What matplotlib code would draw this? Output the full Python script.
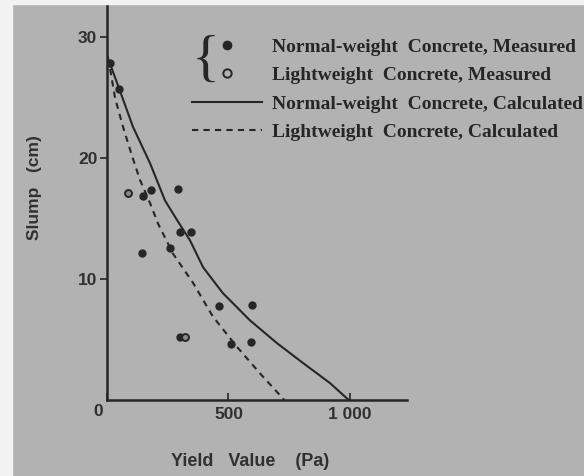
import matplotlib
matplotlib.use("Agg")
import matplotlib.pyplot as plt
from matplotlib.lines import Line2D
from matplotlib.patches import Rectangle

# measured points (yield value Pa, slump cm)
normal_x = [12, 49, 148, 181, 292, 300, 346, 144, 259, 461, 597, 300, 510, 593]
normal_y = [27.9, 25.7, 16.9, 17.4, 17.5, 13.9, 13.9, 12.2, 12.6, 7.8, 7.9, 5.2, 4.6, 4.8]
light_x = [86, 322]
light_y = [17.1, 5.2]

# calculated curves
normal_calc_x = [0, 12, 53, 107, 177, 239, 288, 342, 395, 477, 588, 700, 807, 918, 995]
normal_calc_y = [28.5, 27.85, 25.6, 22.6, 19.6, 16.5, 14.9, 13.2, 11.0, 8.84, 6.6, 4.7, 3.06, 1.4, 0.0]
light_calc_x = [0, 12, 33, 66, 103, 136, 177, 210, 272, 354, 436, 535, 630, 730]
light_calc_y = [28.3, 27.5, 25.0, 22.6, 20.2, 18.2, 16.3, 14.6, 12.1, 9.7, 6.9, 4.4, 2.2, 0.0]

x_ticks = [0, 500, 1000]
x_ticklabels = ["", "500", "1 000"]
y_ticks = [10, 20, 30]

labels = ["Normal-weight  Concrete, Measured",
          "Lightweight  Concrete, Measured",
          "Normal-weight  Concrete, Calculated",
          "Lightweight  Concrete, Calculated"]

bg = "#b2b2b2"
ink = "#262626"
txt = "#303030"
sans = ["Liberation Sans", "DejaVu Sans"]

fig = plt.figure(figsize=(5.84, 4.76), dpi=100, facecolor=bg)
fig.patches.append(Rectangle((0, 0), 12 / 584, 1, transform=fig.transFigure,
                             color="#f2f2f2", zorder=0))
fig.patches.append(Rectangle((0, 1 - 4 / 476), 1, 4 / 476, transform=fig.transFigure,
                             color="#f2f2f2", zorder=0))

ax = fig.add_axes([107 / 584, 76 / 476, 300 / 584, 400 / 476])
ax.set_facecolor("none")
ax.set_xlim(0, 1235)
ax.set_ylim(0, 33.1)
for s in ["top", "right"]:
    ax.spines[s].set_visible(False)
for s in ["left", "bottom"]:
    ax.spines[s].set_color(ink)
    ax.spines[s].set_linewidth(1.8)

ax.plot(normal_calc_x, normal_calc_y, color=ink, lw=1.5)
ax.plot(light_calc_x, light_calc_y, color=ink, lw=1.5, ls=(0, (3, 2.5)))
ax.plot(normal_x, normal_y, "o", color=ink, ms=5, mec=ink)
ax.plot(light_x, light_y, "o", ms=5, mfc="#8a8a8a", mec=ink, mew=1.4)

tick_font = {"family": sans, "size": 12.5, "weight": "bold"}
ax.set_xticks(x_ticks)
ax.set_xticklabels(x_ticklabels, fontdict=tick_font, color=txt)
ax.set_yticks(y_ticks)
ax.set_yticklabels([str(v) for v in y_ticks], fontdict=tick_font, color=txt)
ax.tick_params(axis="x", direction="in", length=5, width=1.2, color=ink, pad=5)
ax.tick_params(axis="y", direction="out", length=5, width=1.2, color=ink, pad=2)
fig.text(98 / 584, 1 - 411 / 476, "0", fontdict=tick_font, color=txt,
         ha="center", va="center")

ax.set_xlabel("Yield   Value    (Pa)", fontdict={"family": sans, "size": 13, "weight": "bold"},
              color=txt)
ax.xaxis.label.set_va("center")
ax.xaxis.set_label_coords(143 / 300, -62 / 400)
ax.set_ylabel("Slump   (cm)", fontdict={"family": sans, "size": 12.5, "weight": "bold"},
              color=txt)
ax.yaxis.label.set_va("center")
ax.yaxis.set_label_coords(-72 / 300, 212 / 400)

handles = [Line2D([], [], ls="none", marker="o", ms=6, color=ink),
           Line2D([], [], ls="none", marker="o", ms=6, mfc=bg, mec=ink, mew=1.4),
           Line2D([], [], color=ink, lw=1.5),
           Line2D([], [], color=ink, lw=1.5, ls=(0, (3, 2.5)))]
leg = fig.legend(handles, labels, loc="upper left",
                 bbox_to_anchor=(192 / 584, 1 - 38 / 476),
                 frameon=False, handlelength=3.6, handletextpad=0.5,
                 labelspacing=0.56, borderpad=0, borderaxespad=0,
                 prop={"family": "Liberation Serif", "size": 14, "weight": "bold"})
for t in leg.get_texts():
    t.set_color(ink)

fig.text(206 / 584, 1 - 62 / 476, "{", fontsize=42, family="Liberation Serif",
         color=ink, ha="center", va="center")

fig.savefig("out.png", dpi=100, facecolor=bg)
